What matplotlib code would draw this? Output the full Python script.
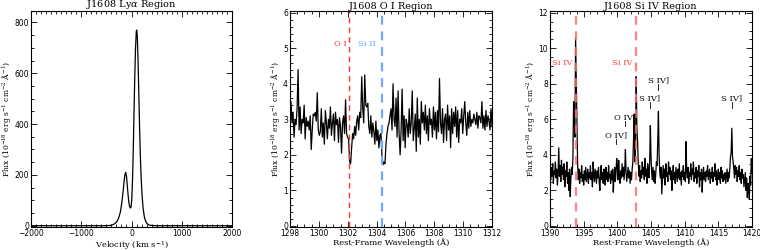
import numpy as np
import matplotlib
matplotlib.use("Agg")
import matplotlib.pyplot as plt
from matplotlib.ticker import MultipleLocator

plt.rcParams['mathtext.fontset'] = 'dejavuserif'

# ---------------- data ----------------
lya_vel = [-2000, -1500, -1000, -600, -500, -450, -400, -350, -300, -260, -220, -190,
           -165, -145, -130, -115, -100, -85, -70, -55, -40, -25, -10, 5, 20, 35, 50,
           65, 80, 95, 105, 115, 130, 145, 160, 175, 190, 210, 230, 255, 280, 310,
           350, 400, 450, 500, 600, 1000, 1500, 2000]
lya_flux = [0, 0, 0, 0, 0.3, 0.8, 2, 6, 14, 28, 55, 95,
            140, 180, 203, 210, 195, 160, 125, 95, 78, 70, 72, 105, 180, 300, 450,
            590, 700, 765, 770, 745, 650, 520, 390, 280, 195, 120, 70, 35, 18, 8,
            3, 1, 0.4, 0, 0, 0, 0, 0]

oi_flux = [3.2, 3.5, 2.9, 3.2, 2.5, 3.0, 2.85, 3.3, 4.4, 2.7,
           3.35, 2.6, 3.0, 2.9, 3.4, 2.45, 3.05, 2.8, 2.95, 2.7,
           3.1, 2.15, 2.7, 3.15, 3.1, 3.2, 2.95, 3.75, 2.7, 2.55,
           2.65, 3.3, 2.5, 2.9, 2.3, 3.25, 2.9, 2.45, 3.0, 2.75,
           3.35, 2.55, 2.9, 3.15, 2.4, 3.2, 2.85, 3.0, 2.35, 3.05,
           2.8, 2.05, 2.9, 3.1, 2.6, 3.55, 2.6, 2.5, 2.45, 1.8,
           1.75, 2.2, 2.6, 2.45, 2.8, 2.55, 2.95, 3.1, 2.7, 3.2,
           3.05, 4.2, 3.3, 2.9, 4.25, 3.4, 3.35, 3.45, 2.8, 2.6,
           3.1, 2.5, 2.9, 2.65, 2.3, 2.95, 2.4, 2.7, 2.2, 2.55,
           2.6, 2.0, 1.72, 1.8, 1.75, 2.3, 2.6, 2.8, 2.9, 3.1,
           3.3, 2.7, 4.0, 3.0, 2.8, 3.6, 2.5, 3.8, 2.6, 2.0,
           2.7, 3.85, 2.4, 3.1, 2.2, 3.0, 2.85, 2.5, 3.3, 2.6,
           2.9, 3.8, 2.4, 2.75, 3.15, 2.1, 3.6, 2.5, 3.0, 2.3,
           3.5, 2.9, 3.2, 2.7, 3.4, 2.6, 3.1, 2.4, 3.3, 2.85,
           3.0, 2.5, 3.35, 2.7, 3.2, 2.45, 3.25, 2.65, 4.15, 2.9,
           2.6, 3.3, 2.35, 3.0, 3.15, 2.4, 3.4, 2.7, 3.1, 2.2,
           3.3, 2.6, 3.2, 2.8, 3.35, 2.5, 3.25, 2.35, 3.0, 2.9,
           3.3, 2.6, 3.1, 3.5, 2.9, 2.55, 3.2, 2.75, 3.25, 2.8,
           3.0, 2.9, 3.15, 3.0, 2.85, 3.2, 2.75, 3.1, 3.05, 2.9,
           3.5, 2.75, 3.1, 2.7, 3.25, 2.8, 3.1, 2.95, 2.7, 3.3,
           2.8]
oi_wave = np.linspace(1298, 1312, len(oi_flux))

siiv_flux = [3.0, 2.6, 3.3, 2.8, 3.5, 2.4, 3.1, 2.9, 3.6, 2.7,
             3.2, 2.3, 3.0, 4.4, 2.8, 3.4, 2.5, 3.7, 2.9, 3.3,
             2.6, 3.5, 2.2, 3.1, 2.8, 3.6, 2.4, 3.0, 2.0, 3.2,
             1.65, 2.7, 3.3, 2.9, 3.8, 7.0, 5.9, 5.0, 10.6, 8.2,
             5.5, 3.5, 2.6, 3.2, 2.4, 3.0, 2.7, 3.4, 2.5, 2.9,
             2.3, 3.1, 2.6, 3.3, 2.5, 2.8, 3.2, 2.4, 3.0, 2.7,
             3.4, 2.6, 3.0, 2.2, 3.6, 2.9, 2.5, 3.2, 2.8, 2.4,
             3.1, 2.7, 3.3, 2.5, 2.0, 2.9, 3.4, 2.6, 3.0, 2.4,
             3.2, 2.8, 2.3, 3.3, 2.6, 3.0, 2.5, 3.4, 2.7, 2.9,
             2.4, 3.1, 2.6, 3.2, 1.9, 2.8, 3.3, 2.5, 3.0, 3.8,
             3.4, 2.6, 3.7, 2.9, 2.4, 3.1, 2.7, 3.5, 2.8, 3.3,
             2.6, 3.2, 4.3, 3.0, 2.5, 2.9, 3.3, 2.7, 3.1, 2.4,
             3.0, 2.6, 3.2, 3.6, 4.8, 6.3, 3.6, 4.5, 8.4, 5.5,
             4.8, 3.6, 2.8, 3.4, 2.5, 3.1, 2.7, 3.6, 2.9, 3.3,
             2.6, 3.8, 2.8, 3.2, 2.4, 3.5, 3.0, 2.7, 3.6, 5.65,
             3.9, 3.0, 2.6, 3.3, 2.5, 3.1, 2.4, 2.9, 3.6, 3.4,
             4.8, 6.45, 4.0, 3.0, 2.7, 3.3, 1.8, 2.6, 3.4, 2.7,
             3.2, 2.3, 3.5, 2.8, 3.0, 2.5, 3.6, 2.9, 3.3, 2.6,
             3.1, 2.0, 2.8, 3.4, 2.6, 3.0, 2.4, 3.3, 2.9, 2.5,
             3.2, 2.7, 3.5, 2.6, 3.0, 2.3, 3.1, 2.8, 3.4, 2.6,
             3.0, 2.5, 4.75, 3.1, 2.7, 3.3, 2.4, 3.0, 2.8, 3.5,
             2.6, 3.2, 2.9, 3.6, 2.5, 3.0, 2.7, 3.3, 2.4, 3.1,
             2.8, 3.4, 2.2, 3.0, 2.6, 3.2, 1.9, 2.9, 3.3, 2.6,
             3.0, 2.5, 3.1, 2.8, 3.4, 2.6, 2.9, 3.2, 2.4, 3.0,
             2.7, 3.3, 2.5, 3.0, 2.8, 3.5, 2.6, 3.1, 2.3, 2.9,
             3.2, 2.6, 3.0, 2.4, 3.3, 2.7, 3.1, 2.5, 2.9, 2.6,
             3.0, 2.4, 2.8, 3.2, 2.5, 3.0, 2.7, 3.2, 3.9, 4.1,
             5.5, 3.9, 3.6, 3.2, 2.7, 3.4, 2.9, 3.3, 2.5, 3.1,
             2.8, 3.4, 2.6, 3.0, 2.4, 3.2, 2.7, 2.9, 2.2, 2.6,
             3.0, 2.0, 2.7, 1.6, 2.4, 2.1, 1.5, 2.8, 2.3, 3.8,
             3.0]
siiv_wave = np.linspace(1390, 1420, len(siiv_flux))

oi_lines = [1302.1, 1304.35]
oi_line_labels = ["O I", "Si II"]
siiv_lines = [1393.8, 1402.8]
siiv_line_labels = ["Si IV", "Si IV"]
ion_labels = ["O IV]", "O IV]", "S IV]", "S IV]", "S IV]"]
ion_x = [1399.8, 1401.2, 1404.85, 1406.05, 1417.0]
ion_y = [5.12, 6.12, 7.17, 8.19, 7.17]

# ---------------- figure ----------------
fig = plt.figure(figsize=(7.6, 2.5), dpi=100)
serif = 'DejaVu Serif'
ylab = r'Flux (10$^{-18}$ erg s$^{-1}$ cm$^{-2}$ $\mathrm{\AA}^{-1}$)'

def style(ax, xmaj, xmin, ymaj, ymin):
    ax.xaxis.set_major_locator(MultipleLocator(xmaj))
    ax.xaxis.set_minor_locator(MultipleLocator(xmin))
    ax.yaxis.set_major_locator(MultipleLocator(ymaj))
    ax.yaxis.set_minor_locator(MultipleLocator(ymin))
    ax.tick_params(which='both', direction='in', top=True, right=True,
                   labelsize=5.5, width=0.6, pad=1.5)
    ax.tick_params(which='major', length=4)
    ax.tick_params(which='minor', length=2)
    for s in ax.spines.values():
        s.set_linewidth(0.8)
    ax.set_ylabel(ylab, fontsize=5.5, family=serif, labelpad=1)

ax1 = fig.add_axes([0.0408, 0.092, 0.2645, 0.864])
ax1.plot(lya_vel, lya_flux, color='black', lw=0.9)
ax1.set_xlim(-2000, 2000)
ax1.set_ylim(-5, 845)
style(ax1, 1000, 100, 200, 50)
ax1.set_xlabel(r'Velocity (km s$^{-1}$)', fontsize=6, family=serif, labelpad=0.5)
ax1.set_title(r'J1608 Ly$\alpha$ Region', fontsize=7, family=serif, pad=0.5)

ax2 = fig.add_axes([0.3816, 0.092, 0.2658, 0.864])
ax2.plot(oi_wave, oi_flux, color='black', lw=0.9)
ax2.set_xlim(1298, 1312)
ax2.set_ylim(-0.03, 6.05)
style(ax2, 2, 0.5, 1, 0.2)
ax2.axvline(oi_lines[0], color='#ff3333', lw=1.0, ls=(0, (4, 3)))
ax2.axvline(oi_lines[1], color='#70a8ff', lw=1.6, ls=(0, (4, 3)))
ax2.text(oi_lines[0] - 0.62, 5.12, oi_line_labels[0], color='#ff3333',
         fontsize=6, family=serif, ha='center', va='center')
ax2.text(oi_lines[1] - 1.0, 5.12, oi_line_labels[1], color='#70a8ff',
         fontsize=6, family=serif, ha='center', va='center')
ax2.set_xlabel('Rest-Frame Wavelength (Å)', fontsize=6, family=serif, labelpad=0.5)
ax2.set_title('J1608 O I Region', fontsize=7, family=serif, pad=0.5)

ax3 = fig.add_axes([0.7237, 0.092, 0.2658, 0.864])
ax3.plot(siiv_wave, siiv_flux, color='black', lw=0.9)
ax3.set_xlim(1390, 1420)
ax3.set_ylim(-0.06, 12.1)
style(ax3, 5, 1, 2, 0.5)
for xl, lab in zip(siiv_lines, siiv_line_labels):
    ax3.axvline(xl, color='#ff7070', lw=1.6, ls=(0, (4, 3)), alpha=0.85)
    ax3.text(xl - 2.05, 9.2, lab, color='#ff4040', fontsize=6, family=serif,
             ha='center', va='center')
for lab, xx, yy in zip(ion_labels, ion_x, ion_y):
    ax3.text(xx, yy, lab, fontsize=6, family=serif, ha='center', va='center')
    ax3.plot([xx, xx], [yy - 0.2, yy - 0.52], color='black', lw=0.6)
ax3.set_xlabel('Rest-Frame Wavelength (Å)', fontsize=6, family=serif, labelpad=0.5)
ax3.set_title('J1608 Si IV Region', fontsize=7, family=serif, pad=0.5)

fig.savefig('out.png', dpi=100)
